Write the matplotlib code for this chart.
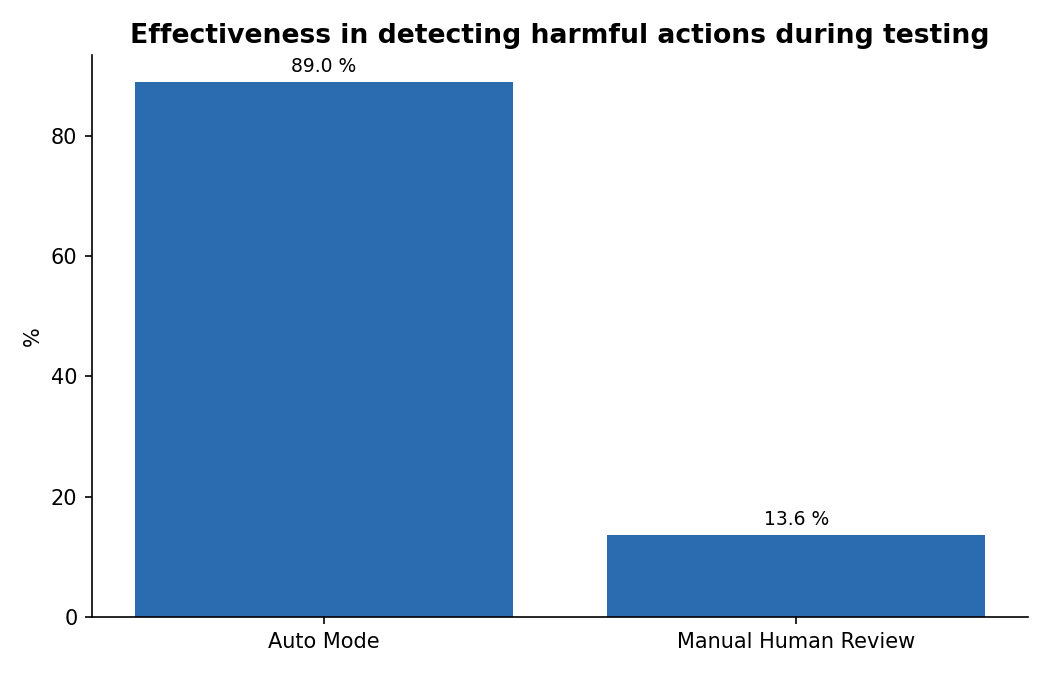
import matplotlib
matplotlib.use("Agg")
import matplotlib.pyplot as plt

# Detection rates
methods = ["Auto Mode", "Manual Human Review"]
detection = [89.0, 13.6]
labels = ["89.0 %", "13.6 %"]

fig, ax = plt.subplots(figsize=(7, 4.5), dpi=150)
bars = ax.bar(methods, detection, width=0.8, color="#2b6cb0")
ax.bar_label(bars, labels=labels, padding=3, fontsize=9)

ax.set_title("Effectiveness in detecting harmful actions during testing",
             fontsize=12.75, fontweight="bold")
ax.set_ylabel("%")
ax.spines["top"].set_visible(False)
ax.spines["right"].set_visible(False)

fig.subplots_adjust(left=0.0876, right=0.979, bottom=0.086, top=0.9185)
fig.savefig("out.png")
plt.close(fig)
